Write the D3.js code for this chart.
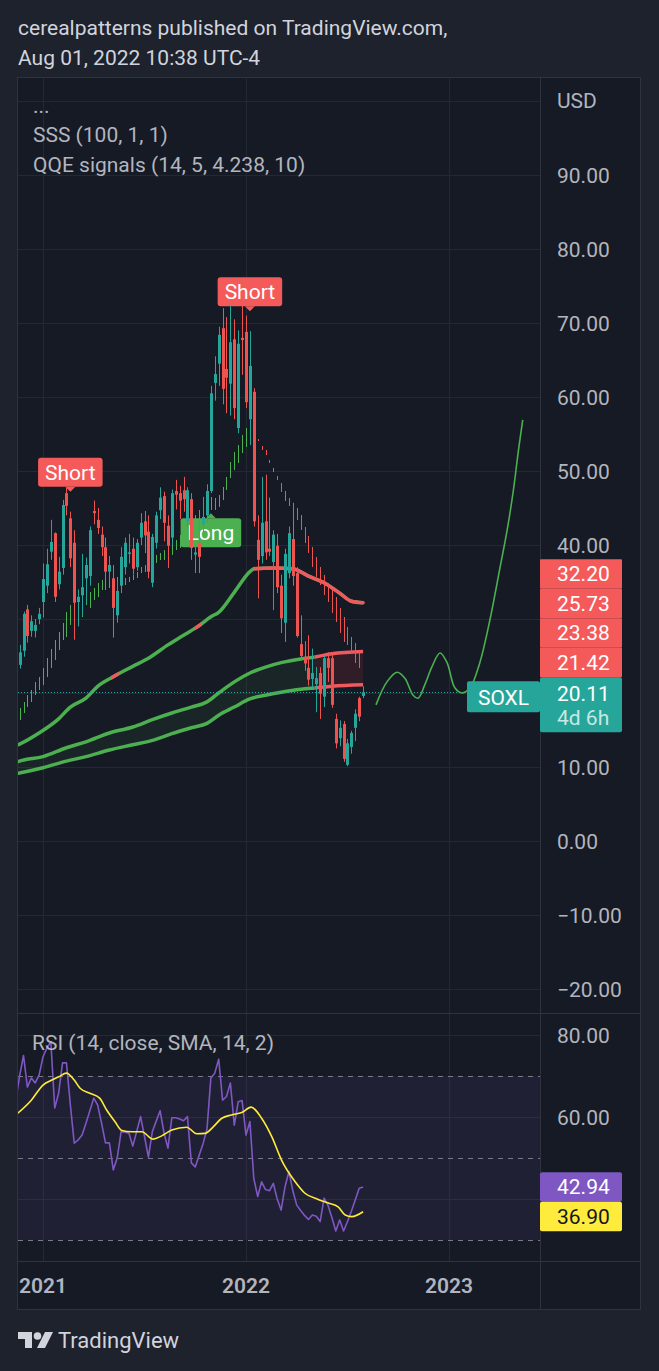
<!DOCTYPE html>
<html><head><meta charset="utf-8">
<script src="https://cdn.jsdelivr.net/npm/d3@7"></script>
<style>
html,body{margin:0;padding:0;background:#1e222d;}
svg{display:block;font-family:Roboto,"Noto Sans",sans-serif;}
</style></head><body>
<svg id="c" width="659" height="1371"></svg>
<script>
// ---------------- DATA ----------------
const firstWeek = new Date(2020, 10, 23);           // first visible weekly bar (Mon)
const yearLabels = ["2021", "2022", "2023"];
const yearDates = [new Date(2021, 0, 4), new Date(2022, 0, 3), new Date(2023, 0, 2)];

const opens  = [23.8,25.7,31.3,28.4,28.4,30.0,32.3,34.5,39.1,41.6,34.7,36.9,47.0,43.6,40.3,32.3,33.2,35.5,35.8,44.6,43.4,41.4,39.7,36.4,35.5,30.5,34.5,37.0,38.8,39.5,37.0,41.0,43.2,41.8,34.9,40.3,44.7,46.6,42.6,41.0,47.3,47.0,47.4,43.2,46.2,38.7,40.3,42.8,44.0,47.3,61.9,64.5,69.3,63.8,61.8,67.8,55.8,68.0,68.8,57.0,60.7,40.7,38.5,43.2,39.5,37.7,39.9,34.5,29.5,36.2,40.8,36.2,26.6,24.9,23.4,21.9,21.2,22.7,19.5,24.7,24.7,16.5,13.9,15.8,10.3,12.7,15.3,19.3,19.6];
const closes = [25.5,30.7,27.7,29.7,29.2,30.7,35.4,37.4,40.4,33.0,36.4,45.4,45.3,38.2,32.2,33.0,34.3,37.3,42.0,44.3,42.3,39.7,36.4,37.3,31.5,33.8,38.4,40.3,39.0,36.8,40.3,43.0,41.3,36.4,41.1,44.0,46.4,43.0,39.9,47.0,46.8,46.0,46.2,47.4,39.6,39.0,38.4,43.8,47.3,60.5,63.1,68.4,61.1,62.6,67.4,58.5,67.2,67.7,59.3,64.2,43.2,38.0,43.0,39.0,39.1,41.4,34.3,30.1,38.8,41.6,35.8,27.7,25.0,24.0,21.8,22.7,22.0,19.9,24.7,23.4,18.4,13.2,15.3,11.1,13.2,14.6,17.2,16.8,20.11];
const highs  = [26.5,31.0,31.9,30.5,30.0,31.5,37.5,39.5,43.4,41.7,38.4,46.1,47.7,44.5,42.0,34.0,38.8,38.3,42.5,46.0,45.0,42.5,41.0,38.5,37.3,35.0,39.7,41.0,41.5,41.0,40.8,44.3,44.6,44.0,41.5,44.5,47.8,47.2,44.0,47.5,48.8,48.0,49.2,47.8,47.0,40.0,43.5,46.5,48.2,61.5,65.5,69.5,72.0,70.8,72.4,70.5,69.0,72.3,71.0,68.9,61.2,44.0,49.2,49.5,46.4,42.0,41.5,36.0,39.5,42.5,45.7,37.0,30.5,27.0,27.8,26.0,23.5,23.5,25.0,25.5,25.2,17.2,16.3,16.2,13.8,14.9,17.8,19.5,20.9];
const lows   = [23.3,24.9,26.8,27.6,27.5,29.3,30.2,33.5,38.0,32.3,34.0,36.0,44.0,37.0,27.2,29.0,30.4,32.0,34.5,42.8,41.5,38.5,35.5,35.0,27.5,29.5,33.5,36.0,37.5,36.0,36.5,40.0,38.9,35.5,34.3,39.5,43.5,40.5,36.9,40.0,44.8,43.5,44.5,42.5,38.0,36.2,36.2,41.5,43.0,47.0,59.5,61.5,59.0,57.8,57.5,57.0,55.1,63.0,58.5,53.5,42.5,32.8,37.5,38.0,38.5,31.2,33.5,28.1,26.9,35.5,34.5,27.5,24.5,23.0,21.0,20.5,17.4,16.5,18.1,21.5,18.0,12.5,12.8,10.7,10.1,11.8,13.5,16.2,19.3];

// SSS indicator thin bars (high / low per bar)
const sssHigh = [17.97,18.78,19.73,20.41,21.49,22.16,23.38,24.73,25.95,27.16,28.24,29.46,30.95,31.89,32.84,33.51,32.97,33.65,33.65,34.19,34.86,35.27,35.54,35.54,35.54,35.68,35.54,35.54,35.68,35.95,36.35,37.03,37.30,37.70,38.24,38.65,38.92,39.32,39.86,40.27,40.68,41.35,42.03,42.70,43.38,44.05,44.73,45.41,46.08,46.49,46.35,46.76,47.84,49.19,51.22,52.57,53.51,54.86,55.81,null,null,54.32,53.38,52.84,51.49,50.41,49.32,48.38,47.30,46.35,45.68,45.0,44.05,42.43,41.22,39.73,38.38,37.03,35.95,34.86,33.92,32.97,31.49,30.27,28.92,27.57,26.76,25.54,null];
const sssLow  = [16.35,17.30,18.11,18.78,19.73,20.41,21.08,22.16,23.38,24.46,25.81,27.16,27.57,29.19,30.27,30.95,30.27,31.89,31.49,32.57,32.97,33.92,33.92,34.19,34.46,34.59,34.59,34.59,35.0,35.27,35.54,36.22,36.35,36.76,37.16,37.57,37.97,37.97,38.51,38.65,39.32,39.59,40.0,40.68,41.35,42.03,42.70,43.38,44.05,44.73,44.73,45.14,46.08,47.43,49.05,50.14,51.08,52.43,53.24,null,null,54.05,52.84,52.16,51.08,49.86,48.78,47.16,45.95,45.27,44.46,43.38,42.03,40.27,38.92,37.03,35.68,34.59,33.24,32.30,30.81,29.59,28.11,26.89,26.49,25.41,24.05,23.38,null];
const sssTurnBar = 60;   // bars before: rising (green), after: falling (red)

// SSS single moving average
const maKeys   = [-1,0,5,10,13,17,20,24,29,33,38,42,46,49,51,55,59,60,65,70,74,78,82,85,88];
const maValues = [12.9,13.1,14.6,16.5,18.1,19.3,20.9,22.2,23.6,24.7,26.5,27.8,29.1,30.3,30.9,33.6,36.4,36.8,36.9,36.8,35.8,34.9,33.5,32.4,32.2];
const maRedRanges = [[23.4,25.4],[44.8,46.7],[59.8,88.5]];

// SSS band (two lines + fill)
const bandKeys  = [-1,0,6,12,17,23,29,34,39,44,48,51,55,59,63,67,72,76,80,88];
const bandUpper = [10.6,10.8,11.4,12.6,13.4,14.6,15.4,16.4,17.3,18.1,18.8,20.0,21.5,22.7,23.5,24.1,24.6,24.9,25.3,25.6];
const bandLower = [9.1,9.2,9.9,10.8,11.4,12.3,13.0,13.6,14.5,15.3,15.9,17.0,18.1,19.2,19.7,20.1,20.5,20.7,20.9,21.1];
const bandRedFrom = 75.6;

// Hand-drawn projection
const projKeys   = [91.3,94.1,96.7,98.7,100.8,102.1,103.8,105.6,107.7,109.5,111.5,113.3,115.4,117.9,120.5,123.1,124.9,126.5,127.8,128.9];
const projValues = [18.4,21.5,22.8,22.0,19.7,19.3,21.1,23.5,25.4,24.1,20.7,20.0,20.7,24.1,29.9,37.0,42.0,47.4,52.8,56.9];

// QQE signals
const signalBars  = [13, 59, 49];
const signalTypes = ["Short", "Short", "Long"];

// price scale labels
const priceTicks = [-20,-10,0,10,20,30,40,50,60,70,80,90];
const priceGrid  = [-20,-10,0,10,20,30,40,50,60,70,80,90,100];
const lastPrice = 20.11, countdown = "4d 6h", ticker = "SOXL";
const indicatorLabels = [32.20, 25.73, 23.38, 21.42];

// RSI
const rsiFirstBar = -1;
const rsiValues = [64,70,75,67.3,69.5,68.3,70.2,74.7,76.8,78.4,62.2,65.8,73.2,73.2,63,53.6,54.4,55.6,58.5,61.5,64.6,62.9,58.5,53.7,53.7,47.1,50.0,56.4,56.3,56.1,52.9,56.5,60.1,55.2,50.2,56.4,59.0,61.5,56.1,52.4,59.8,59.8,59.5,59.1,60.1,48.8,47.8,50.7,53.5,57.0,69.5,70.7,74.1,64.1,65.0,68.3,58.0,63.7,64.0,55.6,58.9,45.0,40.6,44.2,42.3,42.0,43.8,40.0,37.3,43.0,46.7,42.0,38.5,37.2,36.0,35.0,36.1,35.8,34.5,40.2,38.5,35.5,32.2,34.9,32.2,34.5,37.0,39.8,42.6,42.94];
const rsiMaKeys   = [-1,3,6,8,10,12,14,15.5,18,20.5,22.3,24.4,26.2,28.7,31.3,34.2,36.4,39,42.8,45.4,47.5,49.6,51.8,54.3,56.9,59.3,62,64.6,67.1,70.6,73.1,76.5,79.1,81.6,83.4,85.1,88];
const rsiMaValues = [60.5,64.1,67.8,68.9,69.8,70.7,69.0,67.0,65.8,64.6,61.7,58.9,56.7,56.4,56.4,54.6,55.4,56.8,57.5,55.9,56.0,57.6,59.7,60.5,61.1,62.4,59.7,55.2,49.5,44.2,41.4,39.9,39.0,38.1,36.1,35.7,36.9];
const rsiGrid = [40, 60, 80];
const rsiTicks = [40, 60, 80];
const rsiBands = [70, 50, 30];

// ---------------- LAYOUT ----------------
const W = 659, H = 1371;
const L = 18, R = 640, PR = 540, T = 78, MB = 1013, RT = 1014, RB = 1261, AB = 1309;
const FS = 21;
const C = {
  page: "#1e222d", pane: "#161a25", grid: "#242835", border: "#2f3340",
  text: "#b2b5be", head: "#d1d4dc", teal: "#26a69a", red: "#ef5350",
  lineRed: "#f05a5e", green: "#4caf50", label: "#f55a5a",
  rsi: "#7e57c2", rsiMa: "#ffeb3b"
};

const svg = d3.select("#c");
const defs = svg.append("defs");
svg.append("rect").attr("width", W).attr("height", H).attr("fill", C.page);
svg.append("rect").attr("x", L).attr("y", T).attr("width", R - L).attr("height", AB - T).attr("fill", C.pane);

const x = d3.scaleLinear().domain([0, 88]).range([19.6, 363.1]);
const y = d3.scaleLinear().domain([0, 90]).range([841, 175]);
const yr = d3.scaleLinear().domain([60, 80]).range([1117, 1035]);
const fmt = d3.format(".2f");
const barOf = d => d3.timeDay.count(firstWeek, d) / 7;

defs.append("clipPath").attr("id", "clipMain").append("rect").attr("x", L).attr("y", T).attr("width", PR - L).attr("height", MB - T);
defs.append("clipPath").attr("id", "clipRsi").append("rect").attr("x", L).attr("y", RT).attr("width", PR - L).attr("height", RB - RT);
const redClip = defs.append("clipPath").attr("id", "clipMaRed");
maRedRanges.forEach(r => redClip.append("rect").attr("x", x(r[0])).attr("y", T).attr("width", x(r[1]) - x(r[0])).attr("height", MB - T));
defs.append("clipPath").attr("id", "clipBandGreen").append("rect").attr("x", 0).attr("y", T).attr("width", x(bandRedFrom)).attr("height", MB - T);
defs.append("clipPath").attr("id", "clipBandRed").append("rect").attr("x", x(bandRedFrom)).attr("y", T).attr("width", PR - x(bandRedFrom)).attr("height", MB - T);

// ---------------- GRID ----------------
const grid = svg.append("g").attr("stroke", C.grid).attr("stroke-width", 1);
priceGrid.forEach(v => grid.append("line").attr("x1", L).attr("x2", PR).attr("y1", Math.round(y(v)) + 0.5).attr("y2", Math.round(y(v)) + 0.5));
rsiGrid.forEach(v => grid.append("line").attr("x1", L).attr("x2", PR).attr("y1", Math.round(yr(v)) + 0.5).attr("y2", Math.round(yr(v)) + 0.5));
yearDates.forEach(d => {
  const xx = Math.round(x(barOf(d))) + 0.5;
  grid.append("line").attr("x1", xx).attr("x2", xx).attr("y1", T).attr("y2", MB);
  grid.append("line").attr("x1", xx).attr("x2", xx).attr("y1", RT).attr("y2", RB);
});

// ---------------- MAIN PANE ----------------
const main = svg.append("g").attr("clip-path", "url(#clipMain)");

// band
const band = bandKeys.map((k, i) => ({ k, u: bandUpper[i], l: bandLower[i] }));
const area = d3.area().x(d => x(d.k)).y0(d => y(d.l)).y1(d => y(d.u)).curve(d3.curveMonotoneX);
const upLine = d3.line().x(d => x(d.k)).y(d => y(d.u)).curve(d3.curveMonotoneX);
const loLine = d3.line().x(d => x(d.k)).y(d => y(d.l)).curve(d3.curveMonotoneX);
const bg = main.append("g").attr("clip-path", "url(#clipBandGreen)");
bg.append("path").attr("d", area(band)).attr("fill", "rgba(76,175,80,0.08)");
bg.append("path").attr("d", upLine(band)).attr("fill", "none").attr("stroke", C.green).attr("stroke-width", 3.5).attr("stroke-linecap", "round");
bg.append("path").attr("d", loLine(band)).attr("fill", "none").attr("stroke", C.green).attr("stroke-width", 3.5).attr("stroke-linecap", "round");
const br = main.append("g").attr("clip-path", "url(#clipBandRed)");
br.append("path").attr("d", area(band)).attr("fill", "rgba(242,54,69,0.12)");
br.append("path").attr("d", upLine(band)).attr("fill", "none").attr("stroke", C.lineRed).attr("stroke-width", 3.5);
br.append("path").attr("d", loLine(band)).attr("fill", "none").attr("stroke", C.lineRed).attr("stroke-width", 3.5);

// single MA
const ma = maKeys.map((k, i) => ({ k, v: maValues[i] }));
const maLine = d3.line().x(d => x(d.k)).y(d => y(d.v)).curve(d3.curveMonotoneX);
main.append("path").attr("d", maLine(ma)).attr("fill", "none").attr("stroke", C.green).attr("stroke-width", 3.5).attr("stroke-linejoin", "round");
main.append("g").attr("clip-path", "url(#clipMaRed)").append("path").attr("d", maLine(ma)).attr("fill", "none").attr("stroke", C.lineRed).attr("stroke-width", 3.5).attr("stroke-linecap", "round");

// SSS thin bars
sssHigh.forEach((h, i) => {
  if (h == null) return;
  main.append("line").attr("x1", Math.round(x(i)) + 0.5).attr("x2", Math.round(x(i)) + 0.5)
    .attr("y1", y(h)).attr("y2", y(sssLow[i]))
    .attr("stroke", i < sssTurnBar ? C.green : C.red).attr("stroke-width", 1);
});

// signal labels
signalBars.forEach((b, n) => {
  const type = signalTypes[n], isShort = type === "Short";
  const cx = x(b), col = isShort ? C.label : C.green;
  const lg = main.append("g");
  const t = lg.append("text").text(type).attr("font-size", FS).attr("fill", "#fff").attr("text-anchor", "middle");
  const w = t.node().getComputedTextLength() + 14, bh = 29;
  let tipY, top;
  if (isShort) { tipY = y(highs[b]) - 20; top = tipY - 5 - bh; }
  else { tipY = y(lows[b]) + 20; top = tipY + 5; }
  lg.insert("rect", "text").attr("x", cx - w / 2).attr("y", top).attr("width", w).attr("height", bh).attr("rx", 3).attr("fill", col);
  const baseY = isShort ? top + bh : top;
  lg.insert("path", "text").attr("d", `M${cx - 5},${baseY} L${cx + 5},${baseY} L${cx},${tipY} Z`).attr("fill", col);
  t.attr("x", cx).attr("y", top + bh / 2 + 7.5);
});

// candles
opens.forEach((o, i) => {
  const c = closes[i], col = c >= o ? C.teal : C.red, xx = Math.round(x(i));
  main.append("line").attr("x1", xx + 0.5).attr("x2", xx + 0.5).attr("y1", y(highs[i])).attr("y2", y(lows[i])).attr("stroke", col).attr("stroke-width", 1);
  const y0 = y(Math.max(o, c)), y1 = y(Math.min(o, c));
  main.append("rect").attr("x", xx - 1).attr("y", y0).attr("width", 3).attr("height", Math.max(1, y1 - y0)).attr("fill", col);
});

// last price dotted line
main.append("line").attr("x1", L).attr("x2", PR).attr("y1", Math.round(y(lastPrice)) + 0.5).attr("y2", Math.round(y(lastPrice)) + 0.5)
  .attr("stroke", C.teal).attr("stroke-width", 1).attr("stroke-dasharray", "1,2");

// projection
const proj = projKeys.map((k, i) => ({ k, v: projValues[i] }));
main.append("path").attr("d", d3.line().x(d => x(d.k)).y(d => y(d.v)).curve(d3.curveCatmullRom.alpha(0.5))(proj))
  .attr("fill", "none").attr("stroke", C.green).attr("stroke-width", 1.6);

// ticker label on the line
svg.append("rect").attr("x", 467).attr("y", y(lastPrice) - 11).attr("width", PR - 467).attr("height", 31).attr("rx", 2).attr("fill", C.teal);
svg.append("text").attr("x", (467 + PR) / 2).attr("y", y(lastPrice) + 12.5).attr("text-anchor", "middle").attr("font-size", FS).attr("fill", "#fff").text(ticker);

// legend
const lgd = svg.append("g").attr("font-size", FS).attr("fill", C.text);
lgd.append("text").attr("x", 33).attr("y", 113).text("...");
lgd.append("text").attr("x", 33).attr("y", 142).text("SSS (100, 1, 1)");
lgd.append("text").attr("x", 33).attr("y", 172).text("QQE signals (14, 5, 4.238, 10)");

// ---------------- RSI PANE ----------------
const rsiG = svg.append("g").attr("clip-path", "url(#clipRsi)");
rsiG.append("rect").attr("x", L).attr("y", yr(70)).attr("width", PR - L).attr("height", yr(30) - yr(70)).attr("fill", "rgba(126,87,194,0.10)");
rsiBands.forEach(v => rsiG.append("line").attr("x1", L).attr("x2", PR).attr("y1", Math.round(yr(v)) + 0.5).attr("y2", Math.round(yr(v)) + 0.5)
  .attr("stroke", "#787b86").attr("stroke-width", 1).attr("stroke-dasharray", "5,5"));
rsiG.append("path").attr("d", d3.line().x((d, i) => x(i + rsiFirstBar)).y(d => yr(d))(rsiValues))
  .attr("fill", "none").attr("stroke", C.rsi).attr("stroke-width", 1.6).attr("stroke-linejoin", "round");
const rsiMa = rsiMaKeys.map((k, i) => ({ k, v: rsiMaValues[i] }));
rsiG.append("path").attr("d", d3.line().x(d => x(d.k)).y(d => yr(d.v)).curve(d3.curveMonotoneX)(rsiMa))
  .attr("fill", "none").attr("stroke", C.rsiMa).attr("stroke-width", 1.6);
svg.append("text").attr("x", 32).attr("y", 1050).attr("font-size", FS).attr("fill", C.text).text("RSI (14, close, SMA, 14, 2)");

// ---------------- FRAME ----------------
const fr = svg.append("g").attr("stroke", C.border).attr("stroke-width", 1).attr("fill", "none");
fr.append("rect").attr("x", L - 0.5).attr("y", T - 0.5).attr("width", R - L + 1).attr("height", AB - T + 1);
fr.append("line").attr("x1", PR + 0.5).attr("x2", PR + 0.5).attr("y1", T).attr("y2", AB);
fr.append("line").attr("x1", L).attr("x2", R).attr("y1", MB + 0.5).attr("y2", MB + 0.5);
fr.append("line").attr("x1", L).attr("x2", R).attr("y1", RB + 0.5).attr("y2", RB + 0.5);

// ---------------- PRICE AXIS BOXES (computed first to hide covered ticks) ----------------
const boxH = 29.5, lastH = 55, lastTop = y(lastPrice) - 15;
const priceBoxes = [];
let bottom = lastTop;
indicatorLabels.slice().sort((a, b) => a - b).forEach(v => {
  const cy = Math.min(y(v), bottom - boxH / 2);
  priceBoxes.push({ v, cy });
  bottom = cy - boxH / 2;
});
const priceCovered = [bottom, lastTop + lastH];
const rsiLast = rsiValues[rsiValues.length - 1], rsiMaLast = rsiMaValues[rsiMaValues.length - 1];
const c1 = yr(rsiLast), c2 = Math.max(yr(rsiMaLast), c1 + boxH);
const rsiCovered = [c1 - boxH / 2, c2 + boxH / 2];
const free = (yy, cov) => yy + 9 < cov[0] || yy - 9 > cov[1];

const ax = svg.append("g").attr("font-size", FS).attr("fill", C.text);
ax.append("text").attr("x", 557).attr("y", 108).text("USD");
priceTicks.filter(v => free(y(v), priceCovered)).forEach(v => ax.append("text").attr("x", 557).attr("y", y(v) + 7.5).text(fmt(v)));
rsiTicks.filter(v => free(yr(v), rsiCovered)).forEach(v => ax.append("text").attr("x", 557).attr("y", yr(v) + 7.5).text(fmt(v)));

svg.append("rect").attr("x", PR).attr("y", lastTop).attr("width", 622 - PR).attr("height", lastH).attr("rx", 2).attr("fill", C.teal);
svg.append("text").attr("x", 557).attr("y", y(lastPrice) + 8.5).attr("font-size", FS).attr("fill", "#fff").text(fmt(lastPrice));
svg.append("text").attr("x", 557).attr("y", y(lastPrice) + 33).attr("font-size", FS).attr("fill", "rgba(255,255,255,0.75)").text(countdown);
priceBoxes.forEach(b => {
  svg.append("rect").attr("x", PR).attr("y", b.cy - boxH / 2).attr("width", 622 - PR).attr("height", boxH).attr("rx", 1).attr("fill", C.label);
  svg.append("text").attr("x", 557).attr("y", b.cy + 7.5).attr("font-size", FS).attr("fill", "#fff").text(fmt(b.v));
});

svg.append("rect").attr("x", PR).attr("y", c1 - boxH / 2).attr("width", 622 - PR).attr("height", boxH).attr("rx", 2).attr("fill", C.rsi);
svg.append("text").attr("x", 557).attr("y", c1 + 7.5).attr("font-size", FS).attr("fill", "#fff").text(fmt(rsiLast));
svg.append("rect").attr("x", PR).attr("y", c2 - boxH / 2).attr("width", 622 - PR).attr("height", boxH).attr("rx", 2).attr("fill", C.rsiMa);
svg.append("text").attr("x", 557).attr("y", c2 + 7.5).attr("font-size", FS).attr("fill", "#131722").text(fmt(rsiMaLast));

// ---------------- TIME AXIS ----------------
yearDates.forEach((d, i) => svg.append("text").attr("x", x(barOf(d))).attr("y", 1293).attr("text-anchor", "middle")
  .attr("font-size", FS).attr("font-weight", 600).attr("fill", C.text).text(yearLabels[i]));

// ---------------- HEADER / FOOTER ----------------
svg.append("text").attr("x", 18).attr("y", 35).attr("font-size", FS).attr("fill", C.head).text("cerealpatterns published on TradingView.com,");
svg.append("text").attr("x", 18).attr("y", 65).attr("font-size", FS).attr("fill", C.head).text("Aug 01, 2022 10:38 UTC-4");
const logo = svg.append("g").attr("fill", C.head);
logo.append("path").attr("d", "M18,1332 H32 V1348 H25 V1339 H18 Z");
logo.append("circle").attr("cx", 37.5).attr("cy", 1336).attr("r", 3.8);
logo.append("path").attr("d", "M45,1332 H53 L45,1348 H37 Z");
svg.append("text").attr("x", 58).attr("y", 1348).attr("font-size", 22).attr("fill", C.head).text("TradingView");
</script>
</body></html>
